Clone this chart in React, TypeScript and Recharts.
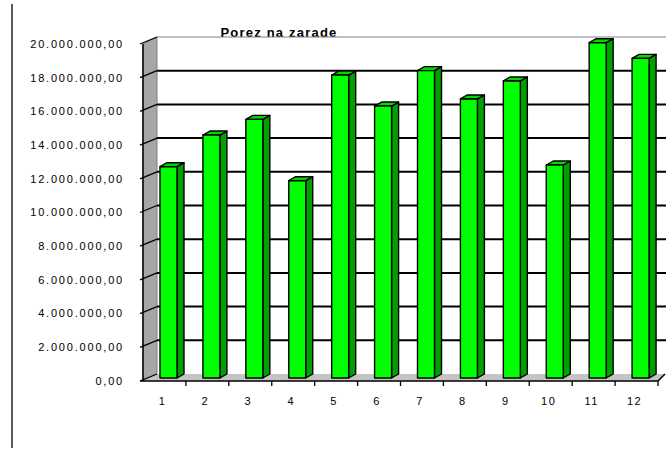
import React from 'react'
import { BarChart, Bar, XAxis, YAxis, CartesianGrid } from 'recharts'

const months = ['1', '2', '3', '4', '5', '6', '7', '8', '9', '10', '11', '12']
const porezNaZarade = [
  12540000, 14420000, 15350000, 11710000, 17980000, 16140000,
  18240000, 16560000, 17630000, 12640000, 19900000, 18970000,
]
const yTicks = [0, 2000000, 4000000, 6000000, 8000000, 10000000, 12000000, 14000000, 16000000, 18000000, 20000000]
const chartTitle = 'Porez na zarade'

const data = months.map((month, i) => ({ month, value: porezNaZarade[i] }))

// 3D look: the front plane sits a bit below/left of the bar plane, the back wall above/right
const W = 666
const H = 450
const PLOT_LEFT = 143
const PLOT_RIGHT = 658
const PLOT_TOP = 41
const PLOT_BOTTOM = 378
const FRONT_DY = 3
const BACK_DX = 14
const BACK_DY = -4
const BAND = (PLOT_RIGHT - PLOT_LEFT) / months.length
const FONT = '"Liberation Sans", Arial, sans-serif'

function fmt(v: number) {
  const int = Math.floor(v).toString().replace(/\B(?=(\d{3})+(?!\d))/g, '.')
  return int + ',00'
}

function GridLine(props: any) {
  const { y1, index } = props
  const top = y1 < PLOT_TOP + 2
  const zero = y1 > PLOT_BOTTOM - 2
  return (
    <g key={`g-${index}`}>
      <line x1={PLOT_LEFT - 3} y1={y1 + FRONT_DY} x2={PLOT_LEFT + BACK_DX} y2={y1 + BACK_DY} stroke="#000" strokeWidth={1.3} />
      {!zero && (
        <line
          x1={PLOT_LEFT + BACK_DX}
          y1={y1 + BACK_DY}
          x2={W}
          y2={y1 + BACK_DY}
          stroke={top ? '#808080' : '#000'}
          strokeWidth={top ? 1.2 : 2}
        />
      )}
    </g>
  )
}

function YTick({ y, payload }: any) {
  return (
    <text x={124} y={y + FRONT_DY} dy="0.35em" textAnchor="end" fontFamily={FONT} fontSize={11} letterSpacing={1.8} fill="#000">
      {fmt(payload.value)}
    </text>
  )
}

function XTick({ x, payload }: any) {
  return (
    <g>
      <line x1={x + BAND / 2} y1={PLOT_BOTTOM + FRONT_DY} x2={x + BAND / 2} y2={PLOT_BOTTOM + FRONT_DY + 5} stroke="#000" strokeWidth={1.3} />
      <text x={x - 2} y={405} textAnchor="middle" fontFamily={FONT} fontSize={11} letterSpacing={1.5} fill="#000">
        {payload.value}
      </text>
    </g>
  )
}

function Column(props: any) {
  const { x, y, width, height } = props
  if (height == null || height <= 0) return null
  const fx = x + 4
  const d = 7
  const dy = 4
  const bottom = y + height
  return (
    <g stroke="#000" strokeWidth={1.4} strokeLinejoin="round">
      <polygon points={`${fx + width},${y} ${fx + width + d},${y - dy} ${fx + width + d},${bottom - dy} ${fx + width},${bottom}`} fill="#00a000" />
      <polygon points={`${fx},${y} ${fx + d},${y - dy} ${fx + width + d},${y - dy} ${fx + width},${y}`} fill="#00d800" />
      <rect x={fx} y={y} width={width} height={height} fill="#00ff00" />
    </g>
  )
}

function Frame() {
  const fb = PLOT_BOTTOM + FRONT_DY
  const bb = PLOT_BOTTOM + BACK_DY
  const ft = PLOT_TOP + FRONT_DY
  const bt = PLOT_TOP + BACK_DY
  const bl = PLOT_LEFT + BACK_DX
  return (
    <svg width={W} height={H} style={{ position: 'absolute', left: 0, top: 0 }}>
      <line x1={12} y1={4} x2={12} y2={448} stroke="#000" strokeWidth={1.3} />
      <polygon points={`${PLOT_LEFT},${ft} ${bl},${bt} ${bl},${bb} ${PLOT_LEFT},${fb}`} fill="#a6a6a6" stroke="#808080" strokeWidth={1} />
      <polygon points={`${PLOT_LEFT},${fb} ${bl},${bb} ${PLOT_RIGHT + 7},${bb} ${PLOT_RIGHT},${fb}`} fill="#c4c4c4" />
      <line x1={PLOT_LEFT} y1={ft} x2={PLOT_LEFT} y2={fb} stroke="#000" strokeWidth={1.5} />
      <polyline points={`${PLOT_LEFT - 3},${fb} ${PLOT_RIGHT},${fb} ${PLOT_RIGHT + 7},${bb}`} fill="none" stroke="#000" strokeWidth={1.5} />
      <text x={279} y={37} textAnchor="middle" fontFamily={FONT} fontSize={13} fontWeight="bold" letterSpacing={1.2} fill="#000">
        {chartTitle}
      </text>
    </svg>
  )
}

export default function App() {
  return (
    <div style={{ position: 'absolute', left: 0, top: 0, width: W, height: H, background: '#fff', overflow: 'hidden' }}>
      <Frame />
      <div style={{ position: 'absolute', left: 0, top: 0 }}>
        <BarChart width={W} height={H} data={data} margin={{ top: PLOT_TOP, right: W - PLOT_RIGHT, bottom: 42, left: 0 }} barSize={17}>
          <CartesianGrid vertical={false} horizontal={(p: any) => <GridLine {...p} />} stroke="#000" />
          <XAxis dataKey="month" axisLine={false} tickLine={false} height={30} interval={0} tick={<XTick />} />
          <YAxis
            width={PLOT_LEFT}
            domain={[0, 20000000]}
            ticks={yTicks}
            axisLine={false}
            tickLine={false}
            tick={<YTick />}
            interval={0}
          />
          <Bar dataKey="value" shape={<Column />} isAnimationActive={false} />
        </BarChart>
      </div>
    </div>
  )
}
